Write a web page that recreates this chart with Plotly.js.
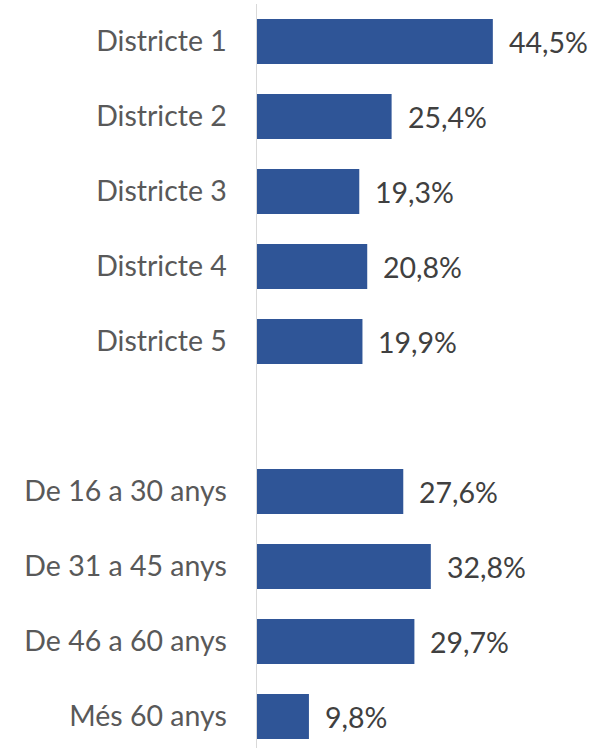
<!DOCTYPE html>
<html>
<head>
<meta charset="utf-8">
<script src="https://cdn.plot.ly/plotly-3.0.1.min.js"></script>
<style>html,body{margin:0;padding:0;background:#fff;}#chart{width:593px;height:748px;}</style>
</head>
<body>
<div id="chart"></div>
<script>
const categories = ['Districte 1','Districte 2','Districte 3','Districte 4','Districte 5','','De 16 a 30 anys','De 31 a 45 anys','De 46 a 60 anys','Més 60 anys'];
const values = [44.5, 25.4, 19.3, 20.8, 19.9, null, 27.6, 32.8, 29.7, 9.8];
const labels = ['44,5%','25,4%','19,3%','20,8%','19,9%','','27,6%','32,8%','29,7%','9,8%'];

const idx = categories.map((c, i) => i);
const FONT = 'Lato, "Open Sans", sans-serif';

const trace = {
  type: 'bar',
  orientation: 'h',
  x: values,
  y: idx,
  width: 0.6,
  marker: {color: '#2F5597'},
  hoverinfo: 'skip'
};

const annotations = [];
values.forEach((v, i) => {
  if (v === null) return;
  annotations.push({
    x: v, y: i, xref: 'x', yref: 'y',
    text: labels[i], showarrow: false,
    xanchor: 'left', yanchor: 'middle', xshift: 14,
    font: {family: FONT, size: 28.5, color: '#404040'}
  });
});

const layout = {
  width: 593, height: 748,
  margin: {l: 257, r: 0, t: 4, b: 0},
  paper_bgcolor: '#ffffff', plot_bgcolor: '#ffffff',
  showlegend: false,
  xaxis: {range: [0, 63.4], visible: false, showgrid: false, zeroline: false, fixedrange: true},
  yaxis: {
    range: [9.42, -0.5],
    tickvals: idx, ticktext: categories,
    showgrid: false, zeroline: false,
    showline: true, linecolor: '#d9d9d9', linewidth: 1.5,
    ticks: '', ticklabelstandoff: 23,
    tickfont: {family: FONT, size: 28.5, color: '#595959'},
    fixedrange: true
  },
  annotations: annotations
};

Plotly.newPlot('chart', [trace], layout, {displayModeBar: false, staticPlot: true});
</script>
</body>
</html>
